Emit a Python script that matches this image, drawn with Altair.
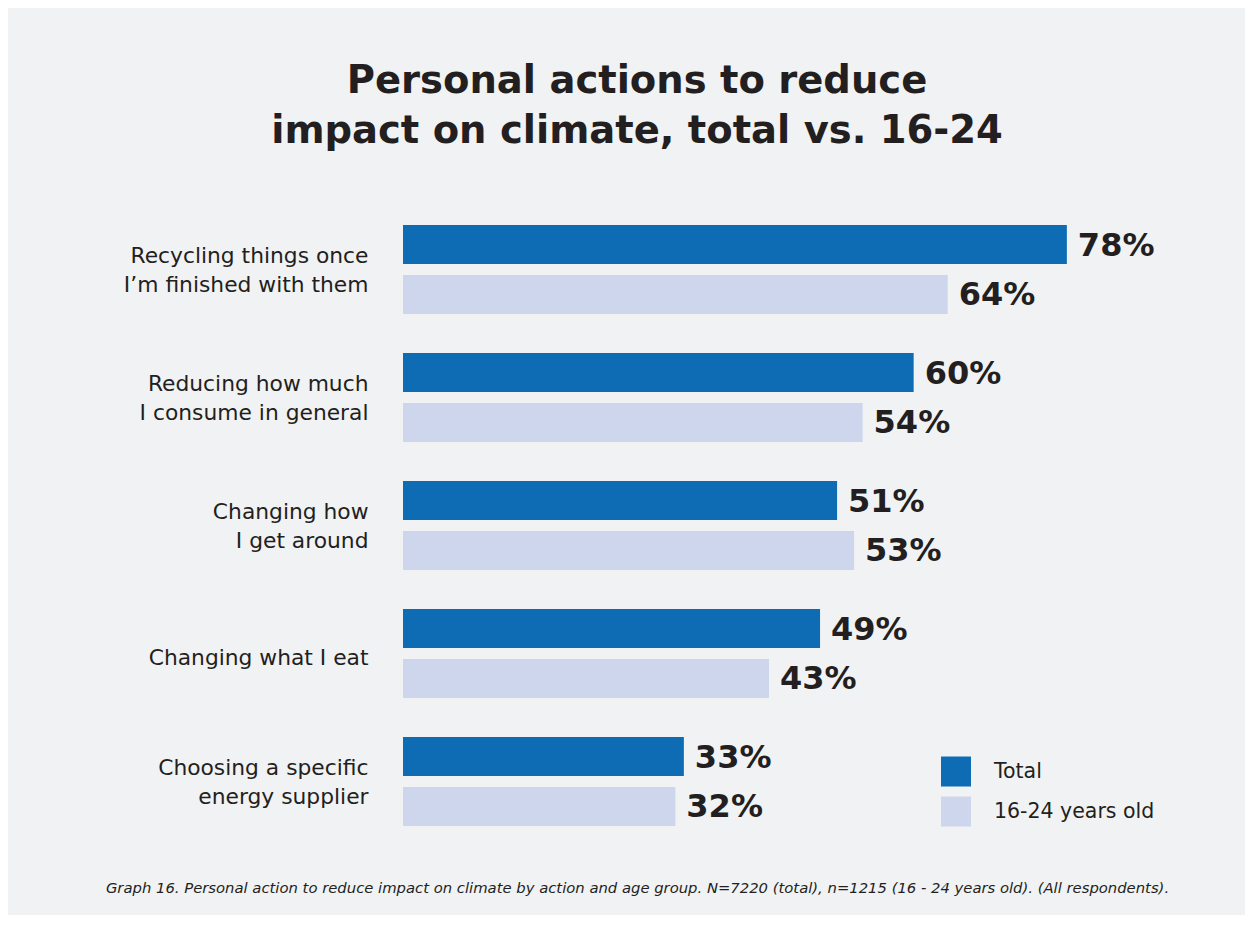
import altair as alt
import pandas as pd

categories = [
    "Recycling things once|I’m finished with them",
    "Reducing how much|I consume in general",
    "Changing how|I get around",
    "Changing what I eat",
    "Choosing a specific|energy supplier",
]
series = ["Total", "16-24 years old"]
total_values = [78, 60, 51, 49, 33]
young_values = [64, 54, 53, 43, 32]

rows = []
for c, t, y in zip(categories, total_values, young_values):
    rows.append({"action": c, "series": series[0], "value": t})
    rows.append({"action": c, "series": series[1], "value": y})
df = pd.DataFrame(rows)

TXT = "#231f20"
BG = "#f1f2f4"
colors = ["#0e6cb5", "#cdd6ec"]
FONT = "DejaVu Sans"

base = alt.Chart(df).encode(
    y=alt.Y(
        "action:N",
        sort=categories,
        scale=alt.Scale(paddingInner=0.305, paddingOuter=0.1525),
        axis=alt.Axis(
            title=None,
            labelExpr="split(datum.label, '|')",
            labelFont=FONT,
            labelFontSize=21.8,
            labelColor=TXT,
            labelLineHeight=29,
            labelPadding=35,
            labelAlign="right",
            labelBaseline="middle",
            labelLimit=400,
            labelOffset={
                "condition": {"test": "indexof(datum.label, '|') >= 0", "value": -14},
                "value": 4,
            },
            ticks=False,
            domain=False,
            grid=False,
        ),
    ),
    yOffset=alt.YOffset(
        "series:N", sort=series, scale=alt.Scale(paddingInner=0.22, paddingOuter=0)
    ),
    x=alt.X(
        "value:Q",
        scale=alt.Scale(domain=[0, 90], nice=False),
        axis=alt.Axis(
            title="Graph 16. Personal action to reduce impact on climate by action and age group. N=7220 (total), n=1215 (16 - 24 years old). (All respondents).",
            labels=False,
            ticks=False,
            domain=False,
            grid=False,
            titleFont=FONT,
            titleFontSize=14.8,
            titleFontStyle="italic",
            titleFontWeight="normal",
            titleColor=TXT,
            titleAlign="center",
            titleBaseline="alphabetic",
            titleLimit=1200,
            titleX=234,
            titleY=47,
        ),
    ),
)

bars = base.mark_bar(size=39).encode(
    color=alt.Color(
        "series:N",
        sort=series,
        scale=alt.Scale(domain=series, range=colors),
        legend=alt.Legend(
            title=None,
            orient="none",
            legendX=538,
            legendY=551,
            symbolType="square",
            symbolSize=900,
            symbolStrokeWidth=0,
            symbolOpacity=1,
            labelFont=FONT,
            labelFontSize=20.5,
            labelColor=TXT,
            labelOffset=23,
            labelLimit=300,
            rowPadding=10,
            padding=0,
        ),
    )
)

labels = base.mark_text(
    align="left",
    baseline="middle",
    dx=11,
    dy=1,
    font=FONT,
    fontWeight="bold",
    fontSize=32,
    color=TXT,
).transform_calculate(lbl="datum.value + '%'").encode(text="lbl:N")

chart = (
    alt.layer(bars, labels)
    .properties(
        width=766,
        height=640,
        autosize=alt.AutoSizeParams(type="none"),
        padding={"left": 395, "top": 197.5, "right": 76, "bottom": 69.5},
        title=alt.TitleParams(
            text=["Personal actions to reduce", "impact on climate, total vs. 16-24"],
            font=FONT,
            fontSize=38.5,
            fontWeight="bold",
            color=TXT,
            lineHeight=50,
            anchor="middle",
            dx=-149,
            offset=54,
        ),
    )
    .configure(background=BG)
    .configure_view(stroke=None)
)

chart.save("out.html", embed_options={"renderer": "svg", "actions": False})
